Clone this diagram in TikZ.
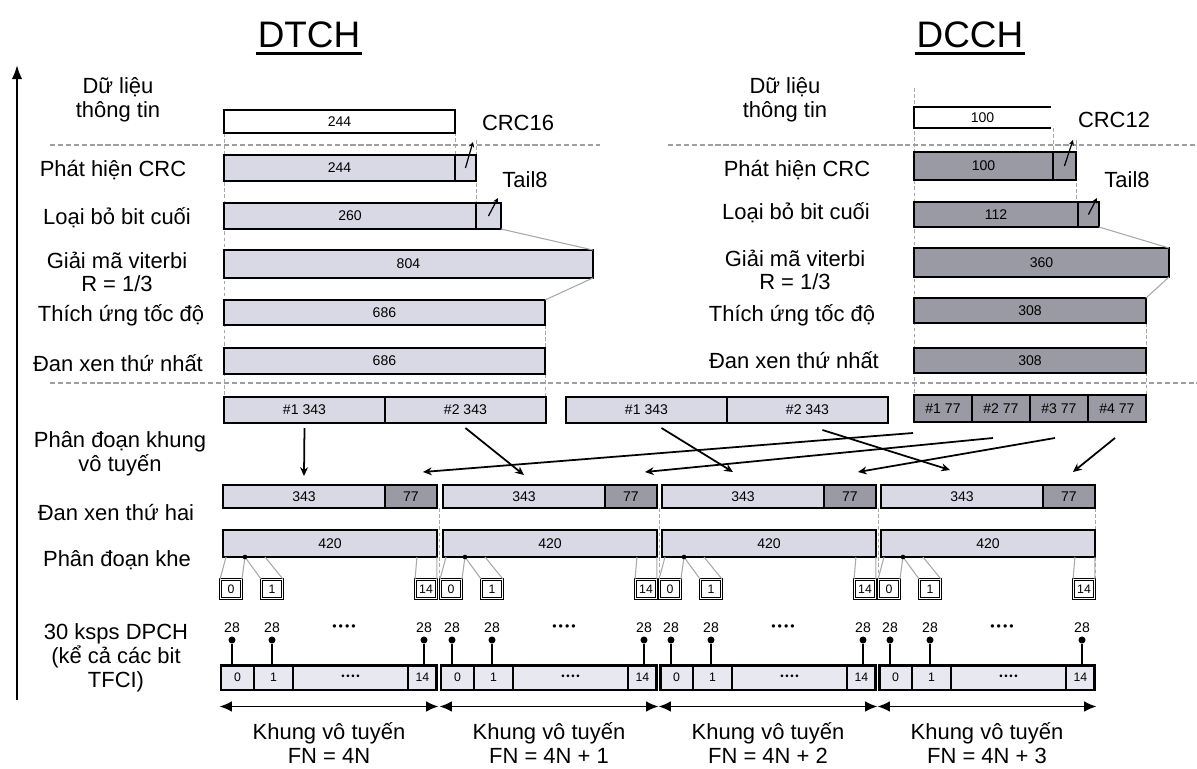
\documentclass[tikz,border=0pt]{standalone}
\usepackage{fontspec}
\setmainfont{Liberation Sans}
\usepackage{tikz}
\usetikzlibrary{positioning,fit,arrows.meta}
\definecolor{dtfill}{HTML}{D9D9E6}
\definecolor{dcfill}{HTML}{9A9AA4}
\definecolor{guidegray}{HTML}{A8A8A8}
\tikzset{
  lbl/.style={align=center, font=\fontsize{12.5}{13.5}\selectfont},
  hdr/.style={font=\fontsize{21}{24}\selectfont, inner sep=1pt},
  num/.style={font=\fontsize{8}{9}\selectfont, inner sep=1pt},
  dtbar/.style={draw, line width=1.1pt, fill=dtfill, anchor=north west, inner sep=0pt, outer sep=0pt, minimum height=0.5cm, font=\fontsize{8}{9}\selectfont},
  dcbar/.style={dtbar, fill=dcfill},
  slotbox/.style={draw, double, double distance=1.1pt, line width=0.5pt, fill=white, minimum width=0.42cm, minimum height=0.38cm, inner sep=0pt, font=\fontsize{7}{8}\selectfont},
  cell/.style={draw, line width=0.7pt, fill=dtfill!60, anchor=north west, minimum height=0.5cm, inner sep=0pt, outer sep=0pt, font=\fontsize{7}{8}\selectfont},
  framebox/.style={draw, line width=1.7pt, inner sep=0pt},
  pindot/.style={circle, fill, inner sep=0pt, minimum size=4pt},
  pinline/.style={line width=0.7pt},
  sepline/.style={draw=gray!75, line width=0.7pt, dash pattern=on 3pt off 1.5pt},
  guide/.style={draw=guidegray, line width=0.5pt, dash pattern=on 2pt off 1.5pt},
  fan/.style={draw=guidegray, line width=0.6pt},
  tick/.style={-{Stealth[length=3pt,width=3pt]}, line width=0.7pt},
  mapline/.style={-{Stealth[length=5pt,width=4.5pt]}, line width=1pt},
  span/.style={{Latex[length=7pt,width=6pt]}-{Latex[length=7pt,width=6pt]}, line width=0.8pt}
}
\newcommand{\dotrow}{•\,•\,•\,•}
\begin{document}
\begin{tikzpicture}[x=0.02cm, y=-0.02cm]
  \fill[white] (0,0) rectangle (1197,768);
  \useasboundingbox (0,0) rectangle (1197,768);

  \draw[guide] (224,133) -- (224,397);
  \draw[guide] (455,120) -- (455,155);
  \draw[guide] (476,140) -- (476,203);
  \draw[guide] (545,325) -- (545,397);
  \draw[guide] (914,88) -- (914,395);
  \draw[guide] (1053,128) -- (1053,152);
  \draw[guide] (1076,140) -- (1076,202);
  \draw[guide] (1146,323) -- (1146,395);
  \draw[guide] (439,508) -- (439,580);
  \draw[guide] (659,508) -- (659,580);
  \draw[guide] (878,508) -- (878,580);
  \draw[guide] (1095,508) -- (1095,580);
  \draw[sepline] (50,145) -- (600,145);
  \draw[sepline] (668,145) -- (1197,145);
  \draw[sepline] (50,383) -- (1197,383);
  \draw[-{Latex[length=8pt,width=6pt]}, line width=1.2pt] (17,700) -- (17,65);

  \node[hdr] (tdt) at (309,35) {DTCH};
  \draw[line width=1.6pt] ([yshift=-2pt]tdt.south west) -- ([yshift=-2pt]tdt.south east);
  \node[hdr] (tdc) at (970,35) {DCCH};
  \draw[line width=1.6pt] ([yshift=-2pt]tdc.south west) -- ([yshift=-2pt]tdc.south east);

  \node[lbl] (l1) at (118,100) {Dữ liệu\\thông tin};
  \node[lbl] (l2) at (113,170) {Phát hiện CRC};
  \node[lbl] (l3) at (117,218) {Loại bỏ bit cuối};
  \node[lbl] (l4) at (117,272) {Giải mã viterbi\\R = 1/3};
  \node[lbl] (l5) at (121,315) {Thích ứng tốc độ};
  \node[lbl] (l6) at (118,363) {Đan xen thứ nhất};
  \node[lbl] (l7) at (120,454) {Phân đoạn khung\\vô tuyến};
  \node[lbl] (l8) at (116,513) {Đan xen thứ hai};
  \node[lbl] (l9) at (117,560) {Phân đoạn khe};
  \node[lbl] (l10) at (116,658) {30 ksps DPCH\\(kể cả các bit\\TFCI)};

  \node[dtbar, fill=white, minimum width=4.62cm, minimum height=0.46cm] (in1) at (224,110) {244};
  \node[lbl] (crc16) at (518,123) {CRC16};
  \node[dtbar, minimum width=4.62cm, minimum height=0.52cm] (cr1) at (224,155) {244};
  \node[dtbar, minimum width=0.42cm, minimum height=0.52cm, right=0pt of cr1] (cr1c) {};
  \draw[tick] (cr1c.center) -- ([xshift=-0.06cm,yshift=0.26cm]cr1c.north east);
  \node[lbl] (tail1) at (525,180) {Tail8};
  \node[dtbar, minimum width=5.04cm, minimum height=0.52cm] (tl1) at (224,203) {260};
  \node[dtbar, minimum width=0.5cm, minimum height=0.52cm, right=0pt of tl1] (tl1c) {};
  \draw[tick] (tl1c.center) -- ([xshift=-0.06cm,yshift=0.1cm]tl1c.north east);
  \node[dtbar, minimum width=7.38cm, minimum height=0.56cm] (vt1) at (224,250) {804};
  \node[dtbar, minimum width=6.42cm] (rt1) at (224,300) {686};
  \node[dtbar, minimum width=6.42cm, minimum height=0.52cm] (it1) at (224,348) {686};
  \draw[fan] (tl1c.south east) -- (vt1.north east);
  \draw[fan] (vt1.south east) -- (rt1.north east);
  \node[dtbar, minimum width=3.22cm, minimum height=0.52cm] (s1a) at (224,397) {\#1 343};
  \node[dtbar, minimum width=3.22cm, minimum height=0.52cm, right=0pt of s1a] (s1b) {\#2 343};
  \node[dtbar, minimum width=3.22cm, minimum height=0.52cm] (s2a) at (566,397) {\#1 343};
  \node[dtbar, minimum width=3.22cm, minimum height=0.52cm, right=0pt of s2a] (s2b) {\#2 343};

  \node[lbl] (m1) at (785,100) {Dữ liệu\\thông tin};
  \node[lbl] (m2) at (797,170) {Phát hiện CRC};
  \node[lbl] (m3) at (796,213) {Loại bỏ bit cuối};
  \node[lbl] (m4) at (795,270) {Giải mã viterbi\\R = 1/3};
  \node[lbl] (m5) at (792,315) {Thích ứng tốc độ};
  \node[lbl] (m6) at (794,360) {Đan xen thứ nhất};

  \node[dtbar, draw=none, fill=white, minimum width=2.74cm, minimum height=0.42cm] (in2) at (914,107) {100};
  \draw[line width=1.1pt] (in2.north east) -- (in2.north west) -- (in2.south west) -- (in2.south east);
  \node[lbl] (crc12) at (1114,120) {CRC12};
  \node[dcbar, minimum width=2.78cm, minimum height=0.56cm] (cr2) at (914,152) {100};
  \node[dcbar, minimum width=0.46cm, minimum height=0.56cm, right=0pt of cr2] (cr2c) {};
  \draw[tick] (cr2c.center) -- ([xshift=-0.06cm,yshift=0.24cm]cr2c.north east);
  \node[lbl] (tail2) at (1127,180) {Tail8};
  \node[dcbar, minimum width=3.28cm] (tl2) at (914,202) {112};
  \node[dcbar, minimum width=0.42cm, right=0pt of tl2] (tl2c) {};
  \draw[tick] (tl2c.center) -- ([xshift=-0.04cm,yshift=0.08cm]tl2c.north east);
  \node[dcbar, minimum width=5.10cm, minimum height=0.58cm] (vt2) at (914,248) {360};
  \node[dcbar, minimum width=4.64cm] (rt2) at (914,298) {308};
  \node[dcbar, minimum width=4.64cm] (it2) at (914,348) {308};
  \draw[fan] (tl2c.south east) -- (vt2.north east);
  \draw[fan] (vt2.south east) -- (rt2.north east);
  \node[dcbar, minimum width=1.16cm, minimum height=0.54cm] (d1) at (914,395) {\#1 77};
  \node[dcbar, minimum width=1.16cm, minimum height=0.54cm, right=0pt of d1] (d2) {\#2 77};
  \node[dcbar, minimum width=1.16cm, minimum height=0.54cm, right=0pt of d2] (d3) {\#3 77};
  \node[dcbar, minimum width=1.16cm, minimum height=0.54cm, right=0pt of d3] (d4) {\#4 77};

  \foreach \k/\L/\f in {1/221/4N, 2/441/4N + 1, 3/660/4N + 2, 4/879/4N + 3}{
    \node[dtbar, minimum width=3.24cm, minimum height=0.46cm] (il\k) at (\L+2,485) {343};
    \node[dcbar, minimum width=1.04cm, minimum height=0.46cm, right=0pt of il\k] (ix\k) {77};
    \node[dtbar, minimum width=4.28cm, minimum height=0.54cm] (sb\k) at (\L+2,530) {420};
    \node[slotbox] (bz\k) at (\L+10,589) {0};
    \node[slotbox] (bo\k) at (\L+51,589) {1};
    \node[slotbox] (bf\k) at (\L+205,589) {14};
    \draw[fan] ([xshift=0.06cm]sb\k.south west) -- (bz\k.north west);
    \draw[fan] ([xshift=0.44cm]sb\k.south west) -- (bz\k.north east);
    \draw[fan] ([xshift=0.44cm]sb\k.south west) -- (bo\k.north west);
    \draw[fan] ([xshift=0.84cm]sb\k.south west) -- (bo\k.north east);
    \draw[fan] ([xshift=-0.4cm]sb\k.south east) -- (bf\k.north west);
    \draw[fan] (sb\k.south east) -- (bf\k.north east);
    \fill ([xshift=0.44cm]sb\k.south west) circle (1.3pt);
    \node[num] (nz\k) at (\L+11,628) {28};
    \node[num] (no\k) at (\L+51,628) {28};
    \node[num] (nf\k) at (\L+203,628) {28};
    \node[num, font=\fontsize{7}{8}\selectfont] (nd\k) at (\L+123,628) {\dotrow};
    \node[pindot] (pz\k) at (\L+11,640) {};
    \node[pindot] (po\k) at (\L+51,640) {};
    \node[pindot] (pf\k) at (\L+203,640) {};
    \node[cell, minimum width=0.66cm] (cz\k) at (\L,665) {0};
    \node[cell, minimum width=0.78cm, right=0pt of cz\k] (co\k) {1};
    \node[cell, minimum width=2.30cm, right=0pt of co\k, font=\fontsize{5.5}{6}\selectfont] (cd\k) {\dotrow};
    \node[cell, minimum width=0.58cm, right=0pt of cd\k] (cf\k) {14};
    \node[framebox, fit=(cz\k)(cf\k)] (fr\k) {};
    \draw[pinline] (pz\k) -- (pz\k |- fr\k.north);
    \draw[pinline] (po\k) -- (po\k |- fr\k.north);
    \draw[pinline] (pf\k) -- (pf\k |- fr\k.north);
    \draw[span] ([yshift=-0.3cm]fr\k.south west) -- ([yshift=-0.3cm]fr\k.south east);
    \node[lbl] (kv\k) at (\L+108,743) {Khung vô tuyến\\FN = \f};
  }

  \draw[mapline] ([yshift=-0.1cm]s1a.south) -- ([yshift=0.18cm]il1.north);
  \draw[mapline] ([yshift=-0.1cm]s1b.south) -- ([yshift=0.2cm]il2.north);
  \draw[mapline] ([xshift=0.3cm,yshift=-0.1cm]s2a.south) -- ([xshift=-0.2cm,yshift=0.26cm]il3.north);
  \draw[mapline] ([xshift=0.3cm,yshift=-0.14cm]s2b.south) -- ([xshift=-0.24cm,yshift=0.3cm]il4.north);
  \draw[mapline] ([xshift=-0.6cm,yshift=-0.22cm]d1.south) -- ([xshift=0.24cm,yshift=0.26cm]ix1.north);
  \draw[mapline] ([xshift=-0.16cm,yshift=-0.32cm]d2.south) -- ([xshift=0.28cm,yshift=0.26cm]ix2.north);
  \draw[mapline] ([xshift=-0.08cm,yshift=-0.32cm]d3.south) -- ([xshift=0.16cm,yshift=0.26cm]ix3.north);
  \draw[mapline] ([xshift=-0.04cm,yshift=-0.32cm]d4.south) -- ([xshift=0.08cm,yshift=0.26cm]ix4.north);
\end{tikzpicture}
\end{document}
